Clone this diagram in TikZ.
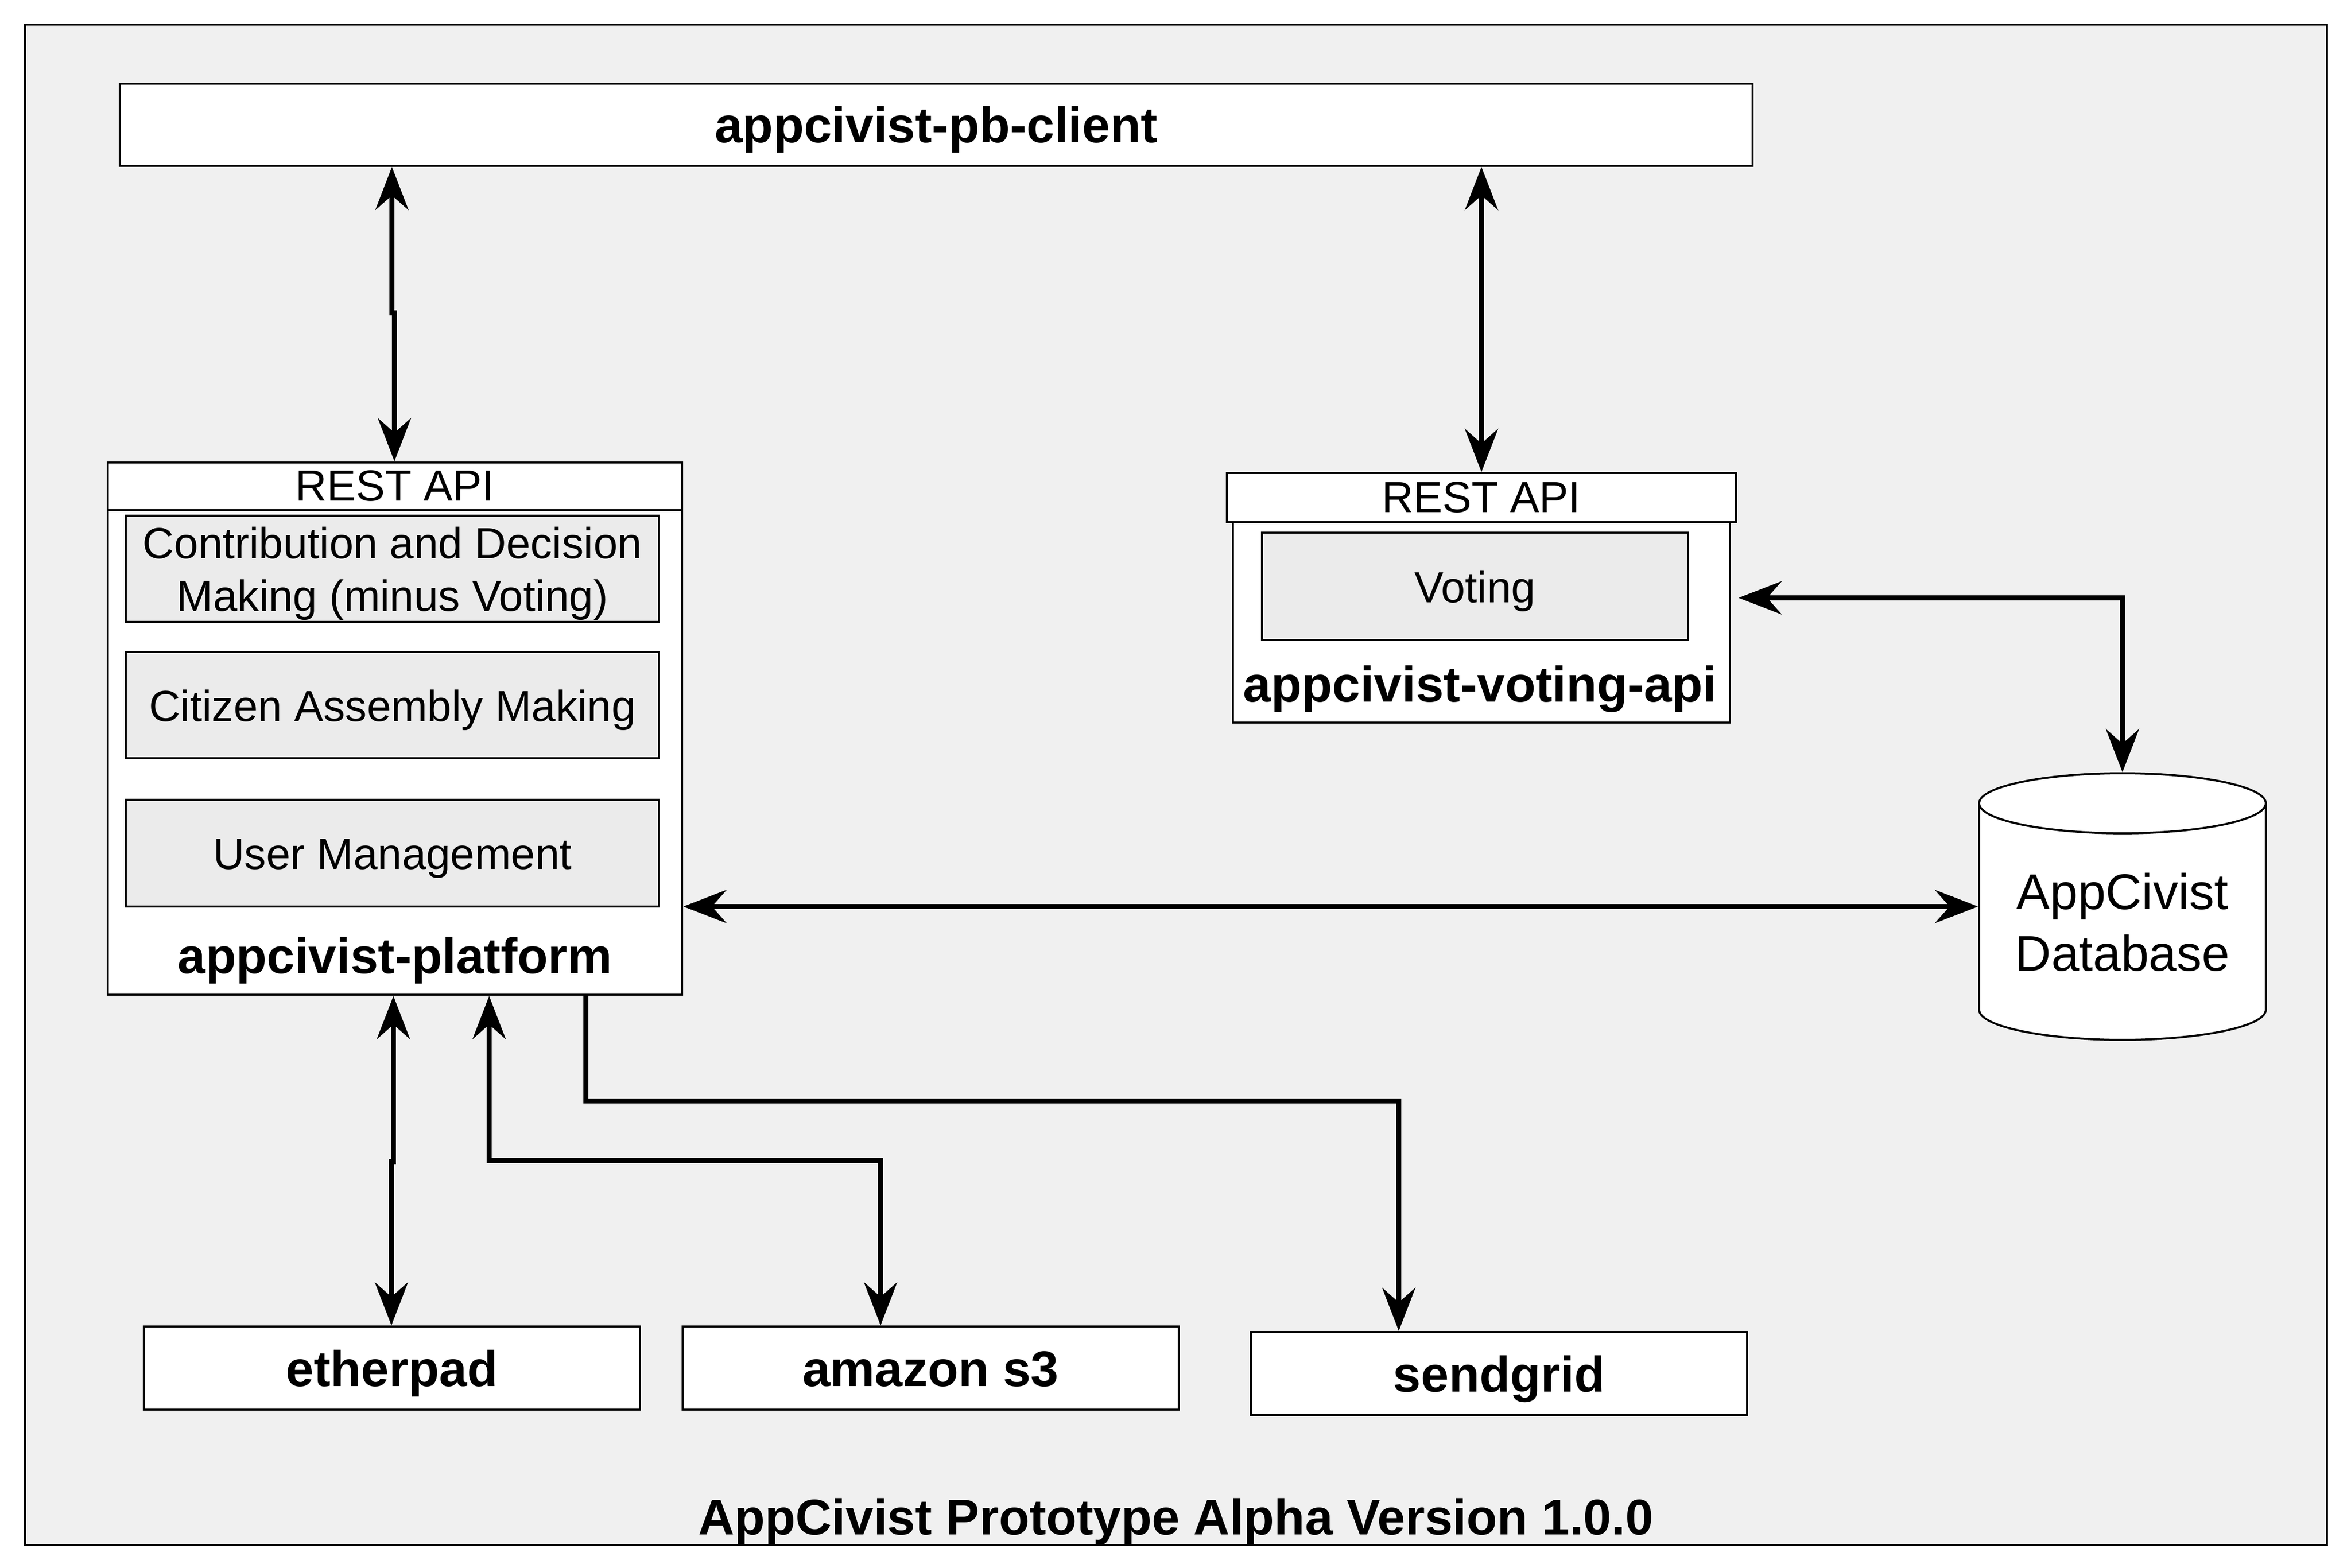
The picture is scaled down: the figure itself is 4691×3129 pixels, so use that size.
\documentclass[tikz,border=0pt]{standalone}
\usepackage{fontspec}
\setmainfont{Liberation Sans}
\usetikzlibrary{arrows.meta,shapes.geometric}
\definecolor{framegray}{HTML}{F0F0F0}
\definecolor{modulegray}{HTML}{EBEBEB}
\begin{document}
\begin{tikzpicture}[x=0.1pt,y=0.1pt,yscale=-1,xscale=1,
  >={Stealth[length=8.6pt,width=6.6pt,inset=2.9pt]},
  svcbox/.style={draw,line width=0.4pt,fill=white,inner sep=0pt},
  module/.style={svcbox,fill=modulegray,minimum width=106.4pt,minimum height=21.3pt,align=center,font=\fontsize{8.7}{10.5}\selectfont,text height=8.3pt},
  apihead/.style={svcbox,minimum height=9.5pt,font=\fontsize{8.7}{10.5}\selectfont},
  boldlabel/.style={inner sep=0pt,font=\fontsize{10}{12}\selectfont\bfseries},
  extsvc/.style={svcbox,minimum width=99.1pt,minimum height=16.6pt,font=\fontsize{10}{12}\selectfont\bfseries,text height=9.3pt,text depth=2.1pt},
  link/.style={line width=1pt}]
\useasboundingbox (0,0) rectangle (4691,3129);

%Shape: Frame
\draw [line width=0.4pt,fill=framegray] (50,49) rectangle (4643,3083);

%Shape: Client
\node [extsvc,minimum width=325.9pt,minimum height=16.4pt] (client) at (1868,249) {appcivist-pb-client};

%Shape: Platform
\node [svcbox,minimum width=114.7pt,minimum height=106.3pt] (plat) at (788,1454) {};
\node [apihead,minimum width=114.7pt,anchor=north] (platapi) at (plat.north) {REST API};
\node [module,text height=18.8pt] (contrib) at (783,1135) {Contribution and Decision\\Making (minus Voting)};
\node [module] (assembly) at (783,1407) {Citizen Assembly Making};
\node [module] (users) at (783,1702) {User Management};
% Text Node
\node [boldlabel] (platlabel) at (788,1917) {appcivist-platform};

%Shape: Voting api
\node [svcbox,minimum width=99.2pt,minimum height=40pt] (vbody) at (2956,1242) {};
\node [apihead,minimum width=101.6pt,minimum height=9.8pt] (vapi) at (2956,993) {REST API};
\node [module,minimum width=85.1pt,minimum height=21.4pt] (voting) at (2943,1170) {Voting};
% Text Node
\node [boldlabel] (vlabel) at (2953,1375) {appcivist-voting-api};

%Shape: Database
\node [cylinder,shape border rotate=90,draw,line width=0.4pt,fill=white,inner sep=0pt,
  minimum width=57.2pt,minimum height=53.2pt,aspect=0.28,align=center,anchor=shape center,
  font=\fontsize{10}{12.3}\selectfont] (db) at (4235,1809) {AppCivist\\Database};

%Shape: External services
\node [extsvc] (ether) at (782,2730) {etherpad};
\node [extsvc] (s3) at (1857,2730) {amazon s3};
\node [extsvc] (send) at (2991,2741) {sendgrid};

% Text Node
\node [boldlabel] (title) at (2346,3037) {AppCivist Prototype Alpha Version 1.0.0};

%Straight Lines
\coordinate (cpA) at (782,624);
\coordinate (cpB) at (787,624);
\draw [link,<->] (client.south -| cpA) -- (cpA) -- (cpB) -- (platapi.north -| cpB);
\draw [link,<->] (client.south -| vapi.north) -- (vapi.north);
\coordinate (vdA) at (4235,1193);
\draw [link,<->,shorten <=1.5pt] (vbody.east |- vdA) -- (vdA) -- (db.north);
\draw [link,<->] (plat.east |- db.shape center) -- (db.shape center -| db.west);
\coordinate (epA) at (785,2318);
\coordinate (epB) at (781,2318);
\draw [link,<->] (plat.south -| epA) -- (epA) -- (epB) -- (ether.north -| epB);
\coordinate (s3A) at (976,2316);
\coordinate (s3B) at (1757,2316);
\draw [link,<->] (plat.south -| s3A) -- (s3A) -- (s3B) -- (s3.north -| s3B);
\coordinate (sgA) at (1169,2197);
\coordinate (sgB) at (2791,2197);
\draw [link,->] (plat.south -| sgA) -- (sgA) -- (sgB) -- (send.north -| sgB);

\end{tikzpicture}
\end{document}
